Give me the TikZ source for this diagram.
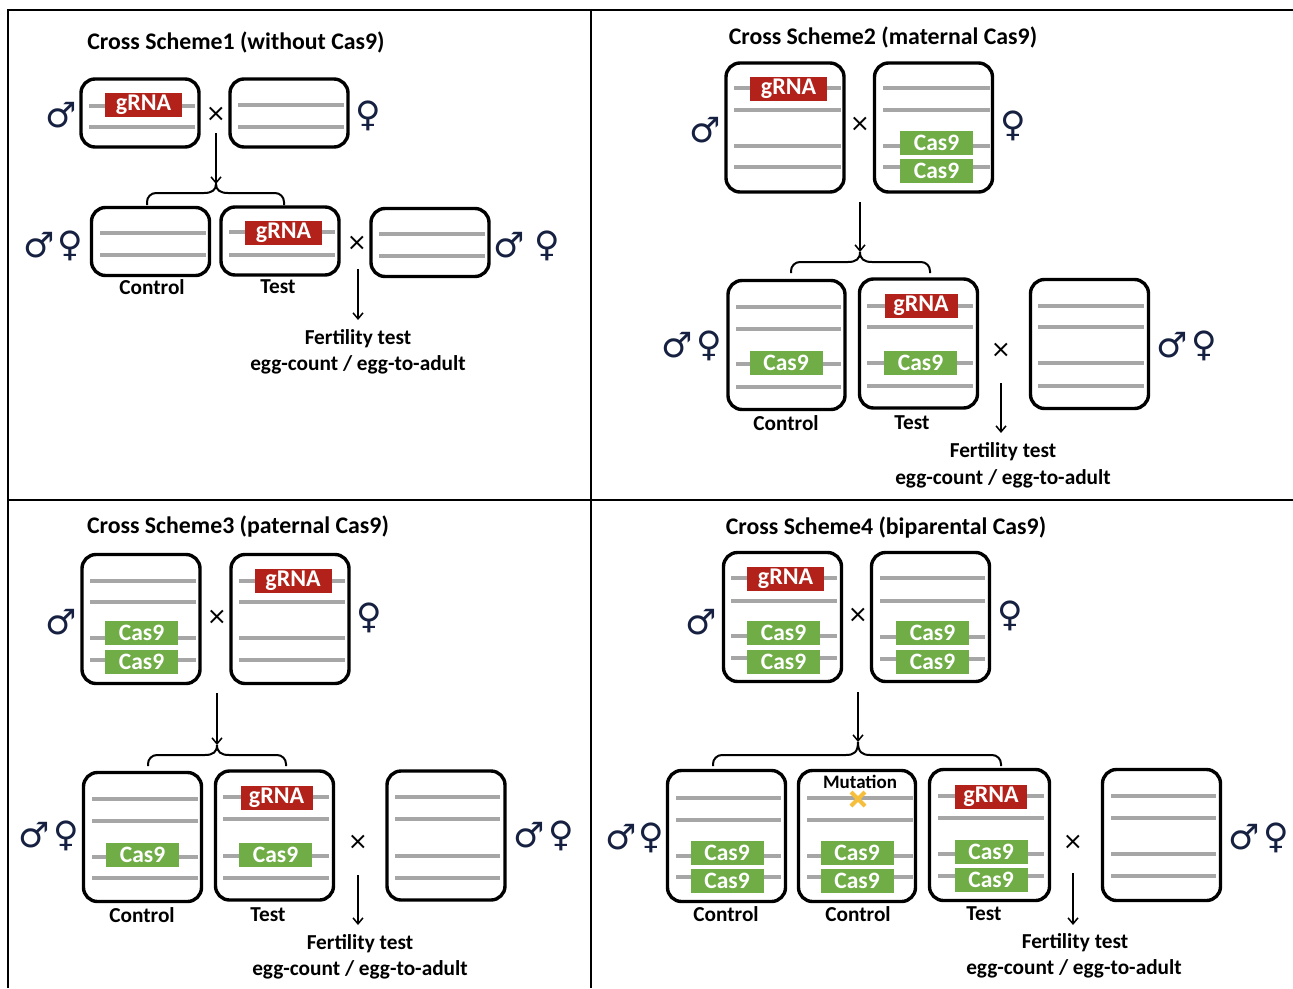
\documentclass[tikz,border=0pt]{standalone}
\usepackage{fontspec}
\setmainfont{Carlito}
\newfontfamily\symfont{DejaVu Sans}
\usetikzlibrary{arrows.meta,calc}
\definecolor{grnared}{RGB}{178,34,26}
\definecolor{casgreen}{RGB}{112,173,71}
\definecolor{lgray}{RGB}{166,166,166}
\definecolor{sexnavy}{RGB}{22,32,64}
\definecolor{mutyel}{RGB}{245,190,60}
\newcommand\crossbrace[6]{% L C R yh ye yc
  \draw[brace] (#1,#5) -- (#1,{#4+9}) .. controls (#1,{#4+4}) and ({#1+4},#4) .. ({#1+9},#4)
    -- ({#2-12},#4) .. controls ({#2-4},#4) and (#2,{#4-3}) .. (#2,#6)
    .. controls (#2,{#4-3}) and ({#2+4},#4) .. ({#2+12},#4)
    -- ({#3-9},#4) .. controls ({#3-4},#4) and (#3,{#4+4}) .. (#3,{#4+9}) -- (#3,#5);}
\begin{document}
\begin{tikzpicture}[x=1pt,y=-1pt,
  frame/.style={line width=2.5pt},
  chrbox/.style={draw, line width=3.4pt, rounded corners=14pt, inner sep=0pt},
  gline/.style={draw=lgray, line width=4pt},
  grna/.style={fill=grnared, text=white, inner sep=0pt, minimum width=77pt, minimum height=24pt, font=\bfseries\fontsize{24}{24}\selectfont},
  cas/.style={fill=casgreen, text=white, inner sep=0pt, minimum width=73pt, minimum height=24pt, font=\bfseries\fontsize{23.5}{24}\selectfont},
  sex/.style={text=sexnavy, inner sep=0pt, font=\symfont\fontsize{35}{35}\selectfont},
  crossx/.style={inner sep=0pt, font=\symfont\fontsize{24}{24}\selectfont},
  ttl/.style={font=\bfseries\fontsize{23.8}{24}\selectfont},
  lbl/.style={inner sep=0pt, font=\bfseries\fontsize{21.3}{22}\selectfont},
  muttxt/.style={inner sep=0pt, font=\bfseries\fontsize{19}{19}\selectfont},
  arr/.style={line width=1.5pt, -{Straight Barb[length=6pt,width=10pt]}},
  brace/.style={line width=2pt},
  mutx/.style={draw=mutyel, line width=4pt},
]
\useasboundingbox (0,0) rectangle (1293,988);
% frame
\draw[frame] (8,988) -- (8,10) -- (1293,10);
\draw[frame] (591,10) -- (591,988);
\draw[frame] (8,500) -- (1293,500);

%%%%%%%%%%%%%%%% Panel 1
\node[ttl] (t1) at (236,42) {Cross Scheme1 (without Cas9)};
\node[chrbox, minimum width=118pt, minimum height=68pt] (p1m) at (140,113) {};
\draw[gline] (89,106) -- (195,106);
\draw[gline] (89,127) -- (195,127);
\node[grna] (p1mg) at (143.5,105) {gRNA};
\node[chrbox, minimum width=118pt, minimum height=68pt] (p1f) at (289,113) {};
\draw[gline] (238,105) -- (344,105);
\draw[gline] (238,127) -- (344,127);
\node[crossx] (x1a) at (216,114) {×};
\node[sex] (m1) at (61,115) {♂};
\node[sex] (f1) at (368,116) {♀};
\coordinate (a1s) at (216,133);
\coordinate (a1e) at (216,184);
\draw[arr] (a1s) -- (a1e);
\crossbrace{147}{216}{284}{193}{205}{184}
\node[chrbox, minimum width=118pt, minimum height=68pt] (c1a) at (150.5,241.5) {};
\draw[gline] (100,233) -- (206,233);
\draw[gline] (100,255) -- (206,255);
\node[chrbox, minimum width=118pt, minimum height=68pt] (c1b) at (280,241) {};
\draw[gline] (229,232) -- (335,232);
\draw[gline] (229,255) -- (335,255);
\node[grna] (c1bg) at (283.5,232.5) {gRNA};
\node[chrbox, minimum width=118pt, minimum height=68pt] (c1c) at (430,242.5) {};
\draw[gline] (379,234) -- (485,234);
\draw[gline] (379,256) -- (485,256);
\node[crossx] (x1b) at (357,243) {×};
\node[sex] (m1l) at (39,245) {♂};
\node[sex] (f1l) at (70,246) {♀};
\node[sex] (m1r) at (509,245) {♂};
\node[sex] (f1r) at (547,246) {♀};
\node[lbl] (l1a) at (152,287) {Control};
\node[lbl] (l1b) at (278,287) {Test};
\coordinate (b1s) at (358,269);
\node[lbl] (ft1) at (358,339) {Fertility test};
\node[lbl] (eg1) at (358,365) {egg-count / egg-to-adult};
\coordinate (b1e) at (358,320);
\draw[arr] (b1s) -- (b1e);

%%%%%%%%%%%%%%%% Panel 2
\node[ttl] (t2) at (883,37) {Cross Scheme2 (maternal Cas9)};
\node[chrbox, minimum width=118pt, minimum height=129pt] (p2m) at (785,127.5) {};
\draw[gline] (734,88) -- (841,88);
\draw[gline] (734,110) -- (841,110);
\draw[gline] (734,146) -- (841,146);
\draw[gline] (734,167) -- (841,167);
\node[grna] (p2mg) at (788.5,89) {gRNA};
\node[chrbox, minimum width=118pt, minimum height=129pt] (p2f) at (933.5,127.5) {};
\draw[gline] (883,88) -- (990,88);
\draw[gline] (883,110) -- (990,110);
\draw[gline] (883,146) -- (990,146);
\draw[gline] (883,167) -- (990,167);
\node[cas] (p2fc1) at (936.5,143) {Cas9};
\node[cas] (p2fc2) at (936.5,171) {Cas9};
\node[crossx] (x2a) at (860,124) {×};
\node[sex] (m2) at (705,130) {♂};
\node[sex] (f2) at (1013,126) {♀};
\coordinate (a2s) at (860,202);
\coordinate (a2e) at (860,252);
\draw[arr] (a2s) -- (a2e);
\crossbrace{791}{860}{930}{262}{273}{252}
\node[chrbox, minimum width=117pt, minimum height=129pt] (c2a) at (786.5,345) {};
\draw[gline] (736,307) -- (841,307);
\draw[gline] (736,329) -- (841,329);
\draw[gline] (736,364) -- (841,364);
\draw[gline] (736,387) -- (841,387);
\node[cas] (c2ac) at (786,362.5) {Cas9};
\node[chrbox, minimum width=118pt, minimum height=129pt] (c2b) at (918.5,343.5) {};
\draw[gline] (867,306) -- (973,306);
\draw[gline] (867,327) -- (973,327);
\draw[gline] (867,363) -- (973,363);
\draw[gline] (867,386) -- (973,386);
\node[grna, minimum width=73pt] (c2bg) at (921,306) {gRNA};
\node[cas] (c2bc) at (920.5,362.5) {Cas9};
\node[chrbox, minimum width=118pt, minimum height=129pt] (c2c) at (1089.5,344) {};
\draw[gline] (1038,306) -- (1144,306);
\draw[gline] (1038,327) -- (1144,327);
\draw[gline] (1038,363) -- (1144,363);
\draw[gline] (1038,386) -- (1144,386);
\node[crossx] (x2b) at (1001,350) {×};
\node[sex] (m2l) at (677,345) {♂};
\node[sex] (f2l) at (709,346) {♀};
\node[sex] (m2r) at (1172,345) {♂};
\node[sex] (f2r) at (1204,346) {♀};
\node[lbl] (l2a) at (786,423) {Control};
\node[lbl] (l2b) at (912,423) {Test};
\coordinate (b2s) at (1001,383);
\coordinate (b2e) at (1001,433);
\draw[arr] (b2s) -- (b2e);
\node[lbl] (ft2) at (1003,452) {Fertility test};
\node[lbl] (eg2) at (1003,479) {egg-count / egg-to-adult};

%%%%%%%%%%%%%%%% Panel 3
\node[ttl] (t3) at (238,527) {Cross Scheme3 (paternal Cas9)};
\node[chrbox, minimum width=118pt, minimum height=129pt] (p3m) at (141,619) {};
\draw[gline] (90,581) -- (196,581);
\draw[gline] (90,602) -- (196,602);
\draw[gline] (90,638) -- (196,638);
\draw[gline] (90,660) -- (196,660);
\node[cas] (p3mc1) at (141.5,633) {Cas9};
\node[cas] (p3mc2) at (141.5,662) {Cas9};
\node[chrbox, minimum width=118pt, minimum height=129pt] (p3f) at (290,619) {};
\draw[gline] (239,581) -- (345,581);
\draw[gline] (239,602) -- (345,602);
\draw[gline] (239,638) -- (345,638);
\draw[gline] (239,660) -- (345,660);
\node[grna] (p3fg) at (293,581) {gRNA};
\node[crossx] (x3a) at (217,617) {×};
\node[sex] (m3) at (61,622) {♂};
\node[sex] (f3) at (369,618) {♀};
\coordinate (a3s) at (217,693);
\coordinate (a3e) at (217,745);
\draw[arr] (a3s) -- (a3e);
\crossbrace{148}{217}{286}{755}{766}{745}
\node[chrbox, minimum width=118pt, minimum height=129pt] (c3a) at (142.5,837) {};
\draw[gline] (92,799) -- (198,799);
\draw[gline] (92,821) -- (198,821);
\draw[gline] (92,857) -- (198,857);
\draw[gline] (92,878) -- (198,878);
\node[cas] (c3ac) at (142.5,854.5) {Cas9};
\node[chrbox, minimum width=118pt, minimum height=129pt] (c3b) at (274.5,835.5) {};
\draw[gline] (223,797) -- (329,797);
\draw[gline] (223,819) -- (329,819);
\draw[gline] (223,856) -- (329,856);
\draw[gline] (223,878) -- (329,878);
\node[grna, minimum width=72pt] (c3bg) at (276.5,798) {gRNA};
\node[cas] (c3bc) at (275.5,854.5) {Cas9};
\node[chrbox, minimum width=118pt, minimum height=129pt] (c3c) at (446,835.5) {};
\draw[gline] (395,797) -- (500,797);
\draw[gline] (395,819) -- (500,819);
\draw[gline] (395,856) -- (500,856);
\draw[gline] (395,878) -- (500,878);
\node[crossx] (x3b) at (358,842) {×};
\node[sex] (m3l) at (34,835) {♂};
\node[sex] (f3l) at (66,836) {♀};
\node[sex] (m3r) at (529,835) {♂};
\node[sex] (f3r) at (561,836) {♀};
\node[lbl] (l3a) at (142,915) {Control};
\node[lbl] (l3b) at (268,915) {Test};
\coordinate (b3s) at (358,875);
\coordinate (b3e) at (358,925);
\draw[arr] (b3s) -- (b3e);
\node[lbl] (ft3) at (360,944) {Fertility test};
\node[lbl] (eg3) at (360,970) {egg-count / egg-to-adult};

%%%%%%%%%%%%%%%% Panel 4
\node[ttl] (t4) at (886,528) {Cross Scheme4 (biparental Cas9)};
\node[chrbox, minimum width=118pt, minimum height=129pt] (p4m) at (782.5,617) {};
\draw[gline] (731,578) -- (837,578);
\draw[gline] (731,601) -- (837,601);
\draw[gline] (731,636) -- (837,636);
\draw[gline] (731,658) -- (837,658);
\node[grna] (p4mg) at (785.5,579) {gRNA};
\node[cas] (p4mc1) at (783.5,633) {Cas9};
\node[cas] (p4mc2) at (783.5,662) {Cas9};
\node[chrbox, minimum width=118pt, minimum height=129pt] (p4f) at (930.5,617) {};
\draw[gline] (880,578) -- (985,578);
\draw[gline] (880,601) -- (985,601);
\draw[gline] (880,637) -- (985,637);
\draw[gline] (880,659) -- (985,659);
\node[cas] (p4fc1) at (932.5,633) {Cas9};
\node[cas] (p4fc2) at (932.5,662) {Cas9};
\node[crossx] (x4a) at (858,615) {×};
\node[sex] (m4) at (701,622) {♂};
\node[sex] (f4) at (1010,616) {♀};
\coordinate (a4s) at (858,692);
\coordinate (a4e) at (858,742);
\draw[arr] (a4s) -- (a4e);
\crossbrace{713}{858}{1001}{755}{766}{742}
% box 1 control
\node[chrbox, minimum width=118pt, minimum height=131pt] (c4a) at (726.5,836) {};
\draw[gline] (676,798) -- (781,798);
\draw[gline] (676,820) -- (781,820);
\draw[gline] (676,856) -- (781,856);
\draw[gline] (676,877) -- (781,877);
\node[cas] (c4ac1) at (727,852.5) {Cas9};
\node[cas] (c4ac2) at (727,881) {Cas9};
% box 2 mutation control
\node[chrbox, minimum width=117pt, minimum height=131pt] (c4b) at (857,836) {};
\draw[gline] (807,798) -- (913,798);
\draw[gline] (807,820) -- (913,820);
\draw[gline] (807,856) -- (913,856);
\draw[gline] (807,877) -- (913,877);
\node[muttxt] (mut) at (860,782) {Mutation};
\coordinate (mx) at (858,799);
\draw[mutx] ($(mx)+(-7,-7)$) -- ($(mx)+(7,7)$);
\draw[mutx] ($(mx)+(-7,7)$) -- ($(mx)+(7,-7)$);
\node[cas] (c4bc1) at (857,852.5) {Cas9};
\node[cas] (c4bc2) at (857,881) {Cas9};
% box 3 test
\node[chrbox, minimum width=120pt, minimum height=131pt] (c4c) at (989.5,835) {};
\draw[gline] (938,796) -- (1044,796);
\draw[gline] (938,818) -- (1044,818);
\draw[gline] (938,854) -- (1044,854);
\draw[gline] (938,876) -- (1044,876);
\node[grna, minimum width=72pt] (c4cg) at (991,796.5) {gRNA};
\node[cas] (c4cc1) at (991,851.5) {Cas9};
\node[cas] (c4cc2) at (991,880) {Cas9};
% box 4
\node[chrbox, minimum width=118pt, minimum height=131pt] (c4d) at (1161.5,835) {};
\draw[gline] (1111,796) -- (1216,796);
\draw[gline] (1111,818) -- (1216,818);
\draw[gline] (1111,854) -- (1216,854);
\draw[gline] (1111,876) -- (1216,876);
\node[crossx] (x4b) at (1073,842) {×};
\node[sex] (m4l) at (621,837) {♂};
\node[sex] (f4l) at (651,838) {♀};
\node[sex] (m4r) at (1244,837) {♂};
\node[sex] (f4r) at (1276,838) {♀};
\node[lbl] (l4a) at (726,914) {Control};
\node[lbl] (l4b) at (858,914) {Control};
\node[lbl] (l4c) at (984,914) {Test};
\coordinate (b4s) at (1073,873);
\coordinate (b4e) at (1073,925);
\draw[arr] (b4s) -- (b4e);
\node[lbl] (ft4) at (1075,943) {Fertility test};
\node[lbl] (eg4) at (1074,969) {egg-count / egg-to-adult};
\end{tikzpicture}
\end{document}
